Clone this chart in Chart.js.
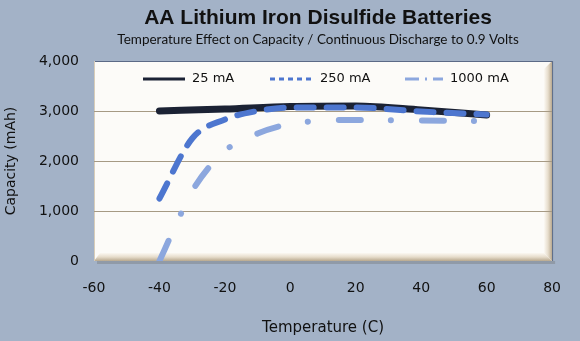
<!DOCTYPE html>
<html>
<head>
<meta charset="utf-8">
<script src="https://cdn.jsdelivr.net/npm/chart.js@4.4.0/dist/chart.umd.min.js"></script>
<style>
  html, body { margin: 0; padding: 0; background: #a3b2c7; }
  #wrap { width: 580px; height: 341px; }
</style>
</head>
<body>
<div id="wrap"><canvas id="chart" width="580" height="341"></canvas></div>
<script>
// Data
const temps25 = [-40, -20, 0, 20, 40, 60];
const cap25 = [3000, 3040, 3090, 3100, 3020, 2920];

const temps250 = [-40, -30, -20, -10, 0, 20, 40, 60];
const cap250 = [1250, 2450, 2830, 3000, 3070, 3070, 2990, 2930];

const temps1000 = [-40, -35, -30, -20, -10, 0, 20, 40, 60];
const cap1000 = [0, 720, 1400, 2200, 2550, 2740, 2820, 2810, 2800];

const seriesLabels = ['25 mA', '250 mA', '1000 mA'];
const xTickValues = [-60, -40, -20, 0, 20, 40, 60, 80];
const yTickValues = [0, 1000, 2000, 3000, 4000];

const TITLE = 'AA Lithium Iron Disulfide Batteries';
const SUBTITLE = 'Temperature Effect on Capacity / Continuous Discharge to 0.9 Volts';

function toPoints(xs, ys) {
    return xs.map((x, i) => ({ x: x, y: ys[i] }));
}

// Legend look (thin samples, as in the picture)
const LEGEND_STYLE = [
    { x: 143, w: 42, dash: [], width: 3 },
    { x: 270, w: 43, dash: [5, 4], width: 3 },
    { x: 405, w: 38, dash: [14, 6, 2, 6], width: 3 }
];

// Title block, centred over the plot box
const headings = {
    id: 'headings',
    afterDraw(chart) {
        const { ctx, chartArea: a } = chart;
        const cx = (a.left + a.right) / 2 - 5;
        ctx.save();
        ctx.fillStyle = '#111111';
        ctx.textAlign = 'center';
        ctx.textBaseline = 'middle';
        ctx.font = 'bold 21px "Liberation Sans"';
        ctx.fillText(TITLE, cx, 18);
        ctx.font = '13.5px Lato';
        ctx.fillText(SUBTITLE, cx, 40);
        ctx.restore();
    }
};

// White plot box with the bevelled floor and right side
const plotFrame = {
    id: 'plotFrame',
    beforeDraw(chart) {
        const { ctx, chartArea: a } = chart;
        ctx.save();
        ctx.fillStyle = '#fcfbf8';
        ctx.fillRect(a.left, a.top, a.right - a.left, a.bottom - a.top);

        // floor bevel
        let g = ctx.createLinearGradient(0, a.bottom - 8, 0, a.bottom);
        g.addColorStop(0, '#fbf8f2');
        g.addColorStop(0.5, '#e6dccb');
        g.addColorStop(1, '#b8a88e');
        ctx.fillStyle = g;
        ctx.beginPath();
        ctx.moveTo(a.left, a.bottom);
        ctx.lineTo(a.left + 6, a.bottom - 8);
        ctx.lineTo(a.right - 8, a.bottom - 8);
        ctx.lineTo(a.right, a.bottom);
        ctx.closePath();
        ctx.fill();

        // right wall bevel
        g = ctx.createLinearGradient(a.right - 8, 0, a.right, 0);
        g.addColorStop(0, '#fbf8f2');
        g.addColorStop(0.5, '#e6dccb');
        g.addColorStop(1, '#b8a88e');
        ctx.fillStyle = g;
        ctx.beginPath();
        ctx.moveTo(a.right, a.top);
        ctx.lineTo(a.right - 8, a.top + 8);
        ctx.lineTo(a.right - 8, a.bottom - 8);
        ctx.lineTo(a.right, a.bottom);
        ctx.closePath();
        ctx.fill();

        // soft shadow under the floor
        ctx.fillStyle = 'rgba(110, 110, 110, 0.35)';
        ctx.fillRect(a.left + 3, a.bottom, a.right - a.left, 3);

        // edges
        ctx.lineWidth = 1;
        ctx.strokeStyle = '#5b6a86';
        ctx.beginPath();
        ctx.moveTo(a.left, a.top + 0.5);
        ctx.lineTo(a.right, a.top + 0.5);
        ctx.moveTo(a.right + 0.5, a.top);
        ctx.lineTo(a.right + 0.5, a.bottom);
        ctx.stroke();
        ctx.strokeStyle = '#d8cdb9';
        ctx.beginPath();
        ctx.moveTo(a.left + 0.5, a.top);
        ctx.lineTo(a.left + 0.5, a.bottom);
        ctx.stroke();
        ctx.restore();
    }
};

// Legend drawn inside the plot, near the top
const innerLegend = {
    id: 'innerLegend',
    afterDraw(chart) {
        const { ctx, chartArea: a } = chart;
        const y = a.top + 18;
        ctx.save();
        chart.data.datasets.forEach((ds, i) => {
            const s = LEGEND_STYLE[i];
            ctx.strokeStyle = ds.borderColor;
            ctx.lineWidth = s.width;
            ctx.lineCap = 'butt';
            ctx.setLineDash(s.dash);
            ctx.beginPath();
            ctx.moveTo(s.x, y);
            ctx.lineTo(s.x + s.w, y);
            ctx.stroke();
            ctx.setLineDash([]);
            ctx.fillStyle = '#111111';
            ctx.font = '13px "DejaVu Sans"';
            ctx.textBaseline = 'middle';
            ctx.fillText(ds.label, s.x + s.w + 7, y);
        });
        ctx.restore();
    }
};

const ctx = document.getElementById('chart').getContext('2d');
const chart = new Chart(ctx, {
    type: 'line',
    data: {
        datasets: [{
            label: seriesLabels[0],
            data: toPoints(temps25, cap25),
            borderColor: '#1b2234',
            borderWidth: 7,
            borderCapStyle: 'round',
            borderJoinStyle: 'round',
            pointRadius: 0,
            cubicInterpolationMode: 'monotone',
            order: 3
        }, {
            label: seriesLabels[1],
            data: toPoints(temps250, cap250),
            borderColor: '#4d76cf',
            borderWidth: 6,
            borderDash: [17, 13],
            borderCapStyle: 'round',
            pointRadius: 0,
            cubicInterpolationMode: 'monotone',
            order: 2
        }, {
            label: seriesLabels[2],
            data: toPoints(temps1000, cap1000),
            borderColor: '#8ca7de',
            borderWidth: 6,
            borderDash: [22, 30, 0.1, 31],
            borderCapStyle: 'round',
            pointRadius: 0,
            cubicInterpolationMode: 'monotone',
            order: 1
        }]
    },
    options: {
        responsive: false,
        animation: false,
        devicePixelRatio: 1,
        layout: { padding: { left: 0, right: 23, top: 61, bottom: 0 } },
        scales: {
            x: {
                type: 'linear',
                min: -60,
                max: 80,
                afterBuildTicks: (scale) => { scale.ticks = xTickValues.map(v => ({ value: v })); },
                afterFit: (scale) => { scale.height = 80; },
                grid: { display: false, drawTicks: false },
                border: { display: false },
                ticks: {
                    color: '#111111',
                    font: { family: 'DejaVu Sans', size: 14 },
                    padding: 19,
                    maxRotation: 0
                },
                title: {
                    display: true,
                    text: 'Temperature (C)',
                    color: '#111111',
                    font: { family: 'DejaVu Sans', size: 15 },
                    padding: { top: 0, bottom: 4 }
                }
            },
            y: {
                min: 0,
                max: 4000,
                afterBuildTicks: (scale) => { scale.ticks = yTickValues.map(v => ({ value: v })); },
                afterFit: (scale) => { scale.width = 94; },
                grid: {
                    drawTicks: false,
                    lineWidth: 1,
                    color: (c) => (c.tick && c.tick.value > 0 && c.tick.value < 4000) ? '#a69a84' : 'rgba(0,0,0,0)'
                },
                border: { display: false },
                ticks: {
                    color: '#111111',
                    font: { family: 'DejaVu Sans', size: 14 },
                    padding: 15,
                    callback: (v) => v.toLocaleString('en-US')
                },
                title: {
                    display: true,
                    text: 'Capacity (mAh)',
                    color: '#111111',
                    font: { family: 'DejaVu Sans', size: 14 },
                    padding: { top: 3, bottom: 0 }
                }
            }
        },
        plugins: {
            legend: { display: false },
            tooltip: { enabled: false },
            title: { display: false },
            subtitle: { display: false }
        }
    },
    plugins: [plotFrame, innerLegend, headings]
});
</script>
</body>
</html>
